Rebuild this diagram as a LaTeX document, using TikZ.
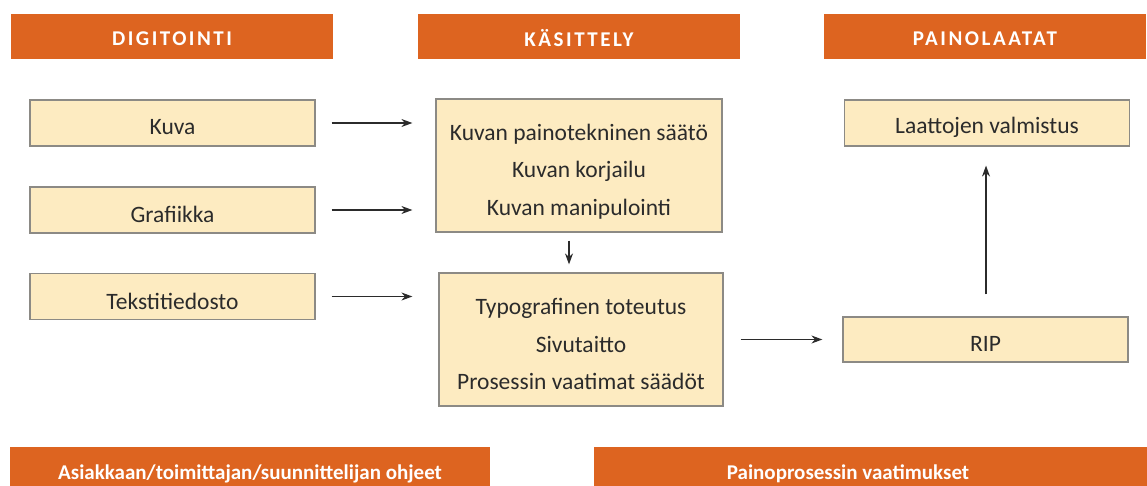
\documentclass[tikz,border=0pt]{standalone}
\usepackage{fontspec}
\setmainfont{Carlito}
\usetikzlibrary{arrows.meta}
\definecolor{hdr}{HTML}{DD6420}
\definecolor{boxfill}{HTML}{FDEBC1}
\definecolor{boxline}{HTML}{8C8A85}
\definecolor{txt}{HTML}{2B2B2B}
\newcommand\lowered[2][4.5pt]{\raisebox{-#1}[\height][\depth]{#2}}
\newcommand\threelines[3]{\lowered[5pt]{\begin{tabular}{@{}c@{}}#1\\#2\\#3\end{tabular}}}
\tikzset{
  hdrbox/.style={fill=hdr, draw=none, text=white, minimum height=45pt, inner sep=0pt,
    font={\fontsize{21}{24}\selectfont\bfseries\addfontfeatures{LetterSpace=12}}},
  hdrlow/.style={fill=hdr, draw=none, text=white, inner sep=0pt,
    font={\fontsize{21}{24}\selectfont\bfseries}},
  procbox/.style={fill=boxfill, draw=boxline, line width=1.2pt, minimum height=46pt, minimum width=285pt,
    inner sep=0pt, text=txt, align=center, font={\fontsize{23.5}{37.5}\selectfont}},
  arr/.style={-{Stealth[length=11pt,width=8pt]}, line width=1.3pt, draw=txt}
}
\begin{document}
\begin{tikzpicture}[x=1pt,y=-1pt]
\useasboundingbox (0,0) rectangle (1147,486);
\clip (0,0) rectangle (1147,486);
% headers
\node[hdrbox, minimum width=322pt] (h1) at (172,36.5) {\lowered[2pt]{DIGITOINTI}};
\node[hdrbox, minimum width=322pt] (h2) at (579,36.5) {\lowered[2pt]{KÄSITTELY}};
\node[hdrbox, minimum width=322pt] (h3) at (985,36.5) {\lowered[2pt]{PAINOLAATAT}};
% bottom headers
\node[hdrlow, minimum width=480pt, minimum height=54pt] (b1) at (250,474) {Asiakkaan/toimittajan/suunnittelijan ohjeet};
\node[hdrlow, minimum width=508pt, minimum height=54pt] (b2) at (848,474) {Painoprosessin vaatimukset};
\fill[hdr] ([xshift=-0.5pt]b2.north east) rectangle ([xshift=60pt]b2.south east);
% left boxes
\node[procbox] (kuva) at (172.5,123) {\lowered{Kuva}};
\node[procbox] (graf) at (172.5,210) {\lowered{Grafiikka}};
\node[procbox] (teks) at (172.5,296.5) {\lowered{Tekstitiedosto}};
% middle boxes
\node[procbox, minimum width=286pt, minimum height=133pt] (k1) at (579,165.5)
  {\threelines{Kuvan painotekninen säätö}{Kuvan korjailu}{Kuvan manipulointi}};
\node[procbox, minimum width=284pt, minimum height=133pt] (k2) at (581,339.5)
  {\threelines{Typografinen toteutus}{Sivutaitto}{Prosessin vaatimat säädöt}};
% right boxes
\node[procbox] (laat) at (987,123) {\lowered{Laattojen valmistus}};
\node[procbox, minimum height=45pt] (rip) at (985.5,339.5) {\lowered{RIP}};
% arrows
\draw[arr, shorten <=16pt, shorten >=23pt] (kuva.east) -- (kuva.east -| k1.west);
\draw[arr, shorten <=16pt, shorten >=23pt] (graf.east) -- (graf.east -| k1.west);
\draw[arr, shorten <=16pt, shorten >=26pt] (teks.east) -- (teks.east -| k2.west);
\draw[arr, shorten <=8pt, shorten >=8pt] ([xshift=-10pt]k1.south) -- ([xshift=-10pt]k1.south |- k2.north);
\draw[arr, shorten <=17pt, shorten >=20pt] (k2.east |- rip.west) -- (rip.west);
\draw[arr, shorten <=22pt, shorten >=19pt] ([xshift=0.5pt]rip.north) -- ([xshift=0.5pt]rip.north |- laat.south);
\end{tikzpicture}
\end{document}
